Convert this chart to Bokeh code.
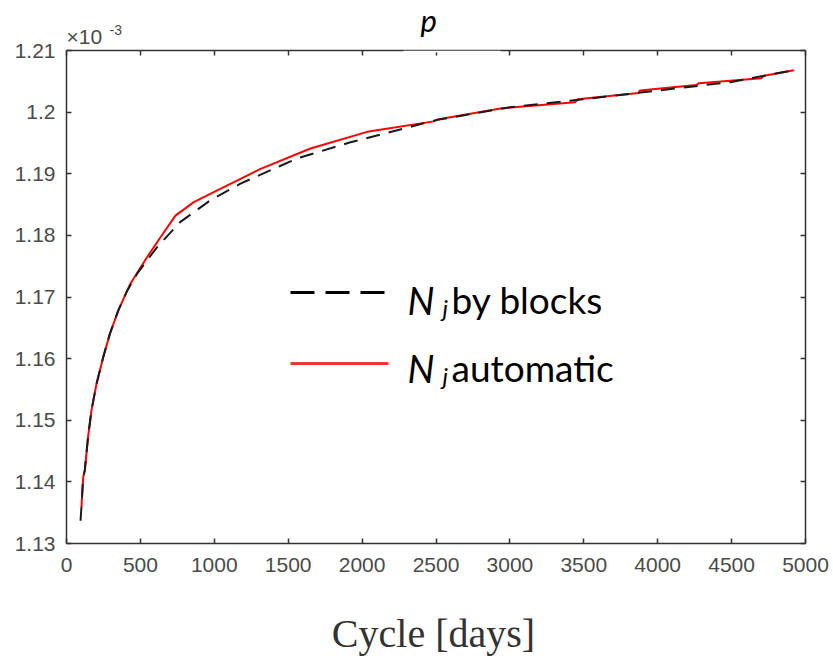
from bokeh.plotting import figure
from bokeh.models import (Range1d, LinearAxis, FixedTicker, CustomJSTickFormatter,
                          Label, BoxAnnotation)
from bokeh.embed import file_html
from bokeh.resources import INLINE

# ---------------- data (p in units of 1e-3) ----------------
auto_x = [101, 113, 124, 146, 169, 203, 248, 293, 350, 406, 433, 546, 636, 737, 861,
          1020, 1222, 1313, 1651, 2034, 2485, 2510, 2936, 3440, 3460, 3870, 3880,
          4260, 4280, 4700, 4720, 4921]
auto_y = [1.1359, 1.1408, 1.1419, 1.1473, 1.1516, 1.1559, 1.1602, 1.1640, 1.1678,
          1.1708, 1.1722, 1.1765, 1.1797, 1.1832, 1.1854, 1.1873, 1.1897, 1.1908,
          1.1941, 1.1968, 1.1985, 1.1988, 1.2006, 1.2016, 1.2021, 1.2031, 1.2035,
          1.2044, 1.2047, 1.2055, 1.2059, 1.2068]

blocks_x = [95, 101, 113, 124, 146, 169, 203, 248, 293, 350, 406, 478, 613, 771, 974,
            1177, 1561, 1921, 2500, 3000, 3500, 4000, 4500, 4920]
blocks_y = [1.1337, 1.1359, 1.1408, 1.1419, 1.1473, 1.1516, 1.1559, 1.1602, 1.1640,
            1.1678, 1.1708, 1.1738, 1.1781, 1.1822, 1.1857, 1.1884, 1.1925, 1.1951,
            1.1987, 1.2008, 1.2021, 1.2035, 1.2049, 1.2068]

x_ticks = [0, 500, 1000, 1500, 2000, 2500, 3000, 3500, 4000, 4500, 5000]
y_ticks = [1.13, 1.14, 1.15, 1.16, 1.17, 1.18, 1.19, 1.20, 1.21]

title_text = "p"
x_title = "Cycle [days]"
legend_sym = "N"
legend_sub = "j"
legend_texts = ["by blocks", "automatic"]
mult_base = "×10"
mult_exp = "-3"

X0, X1 = 0, 5000
Y0, Y1 = 1.13, 1.21

# ---------------- layout ----------------
W, H = 833, 659
FL, FT, FR, FB = 66, 50, 28, 116
FW, FH = W - FL - FR, H - FT - FB


def at(px, py):
    """pixel position in the picture -> data coordinates (annotations only)"""
    return (X0 + (px - FL) / FW * (X1 - X0), Y1 - (py - FT) / FH * (Y1 - Y0))


p = figure(width=W, height=H, output_backend="svg", toolbar_location=None,
           x_range=Range1d(X0, X1), y_range=Range1d(Y0, Y1),
           x_axis_location=None, y_axis_location=None,
           min_border_left=FL, min_border_right=FR, min_border_top=FT,
           min_border_bottom=FB)
p.grid.visible = False
p.outline_line_color = None
p.background_fill_color = "white"
p.border_fill_color = "white"

AX = "#333333"
TXT = "#4a4a4a"


def style(ax, ticks, show):
    ax.ticker = FixedTicker(ticks=ticks)
    ax.axis_line_color = AX
    ax.axis_line_width = 1.5
    ax.major_tick_in = 5
    ax.major_tick_out = 0
    ax.major_tick_line_color = AX
    ax.major_tick_line_width = 1.5
    ax.minor_tick_line_color = None
    ax.major_label_text_font = "Liberation Sans"
    ax.major_label_text_font_size = "21px"
    ax.major_label_text_color = TXT
    if not show:
        ax.formatter = CustomJSTickFormatter(code="return ''")
        ax.major_label_text_font_size = "0px"
        ax.major_label_standoff = 0


bx = LinearAxis()
style(bx, x_ticks, True)
bx.major_label_standoff = 14
p.add_layout(bx, "below")

ly = LinearAxis()
style(ly, y_ticks, True)
ly.formatter = CustomJSTickFormatter(code="return (Math.round(tick*100)/100).toString()")
ly.major_label_standoff = 11
p.add_layout(ly, "left")

tx = LinearAxis()
style(tx, x_ticks, False)
p.add_layout(tx, "above")

ry = LinearAxis()
style(ry, y_ticks, False)
p.add_layout(ry, "right")

# ---------------- curves ----------------
p.line(auto_x, auto_y, line_color="#ff0000", line_width=2)
p.line(blocks_x, blocks_y, line_color="#1a1a1a", line_width=2, line_dash="14 9")

# ---------------- legend (drawn by hand) ----------------
lx0, ly1 = at(290, 292)
lx1, _ = at(388, 292)
_, ly2 = at(290, 363)
p.line([lx0, lx1], [ly1, ly1], line_color="black", line_width=3, line_dash="24 11")
p.line([lx0, lx1], [ly2, ly2], line_color="#e8383c", line_width=3)

LEG_FONT = "Lato"
for row, (mid_y, sub_mid_y) in enumerate([(299, 307), (367, 375)]):
    nx, ny = at(407, mid_y)
    p.add_layout(Label(x=nx, y=ny, text=legend_sym, text_font=LEG_FONT,
                       text_font_style="italic", text_font_size="38px",
                       text_color="black", text_baseline="middle"))
    jx, jy = at(442, sub_mid_y)
    p.add_layout(Label(x=jx, y=jy, text=legend_sub, text_font=LEG_FONT,
                       text_font_style="italic", text_font_size="24px",
                       text_color="black", text_baseline="middle"))
    tx_, ty_ = at(451, mid_y)
    p.add_layout(Label(x=tx_, y=ty_, text=legend_texts[row], text_font=LEG_FONT,
                       text_font_size="37px", text_color="black",
                       text_baseline="middle"))

# ---------------- white gap in the top frame behind the title ----------------
gx0, gy0 = at(403, 52)
gx1, _ = at(500, 52)
p.add_layout(BoxAnnotation(left=gx0, right=gx1, bottom=gy0, fill_color="white",
                           fill_alpha=1.0, line_color=None))

# ---------------- texts outside the frame (placed in side panels) ----------------
ttx, tty = at(420, 19.5)
p.add_layout(Label(x=ttx, y=tty, text=title_text, text_font="Lato",
                   text_font_style="italic", text_font_size="31px",
                   text_color="black", text_baseline="middle"), "above")

mx, my = at(66, 36)
p.add_layout(Label(x=mx, y=my, text=mult_base, text_font="Liberation Sans",
                   text_font_size="21px", text_color=TXT,
                   text_baseline="middle"), "below")
ex, ey = at(109, 29)
p.add_layout(Label(x=ex, y=ey, text=mult_exp, text_font="Liberation Sans",
                   text_font_size="14px", text_color=TXT,
                   text_baseline="middle"), "right")

cx, cy = at(433, 633)
p.add_layout(Label(x=cx, y=cy, text=x_title, text_font="Liberation Serif",
                   text_font_size="40px", text_color="#333333",
                   text_align="center", text_baseline="middle"), "below")

open("out.html", "w").write(file_html(p, INLINE))
